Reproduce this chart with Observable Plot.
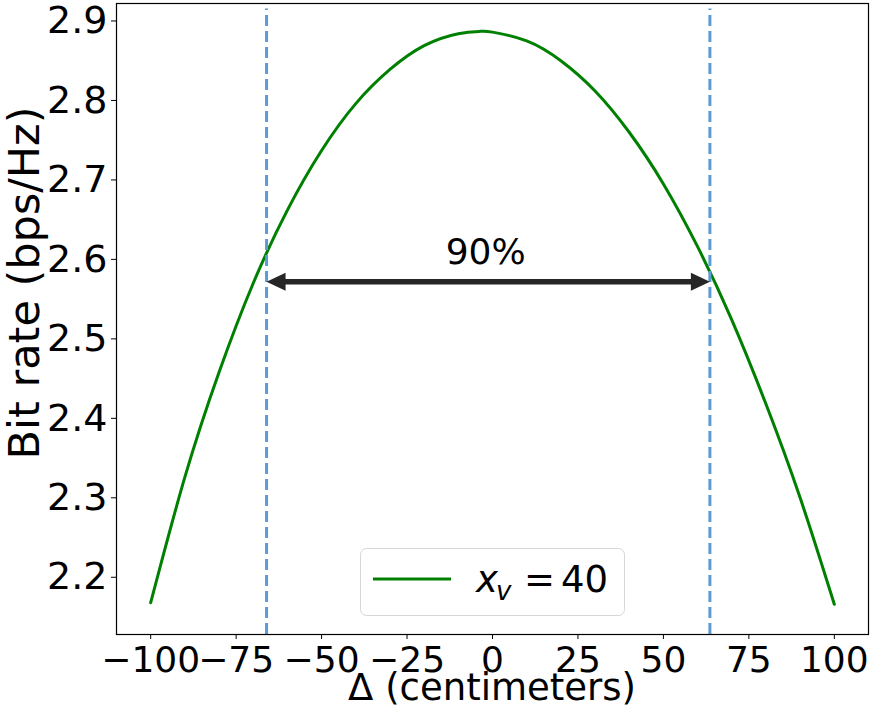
<!DOCTYPE html>
<html>
<head>
<meta charset="utf-8">
<script src="https://cdn.jsdelivr.net/npm/d3@7"></script>
<script src="https://cdn.jsdelivr.net/npm/@observablehq/plot@0.6"></script>
<style>
  html, body { margin: 0; padding: 0; background: white; }
  #chart svg { display: block; }
</style>
</head>
<body>
<div id="chart"></div>
<script>
// ---- data ----
const deltaCm = [-100, -90, -80, -70, -60, -50, -40, -30, -20, -10, -3.5, 0, 10, 20, 30, 40, 50, 60, 70, 80, 90, 100];
const bitRate = [2.168, 2.326, 2.458, 2.570, 2.662, 2.737, 2.796, 2.839, 2.869, 2.884, 2.887, 2.886, 2.875, 2.850, 2.812, 2.760, 2.695, 2.616, 2.524, 2.418, 2.300, 2.166];
const bounds90 = [-66.1, 63.6];          // dashed vertical lines (90% points)
const vlineRange = [2.128, 2.915];        // extent of dashed lines
const arrowLevel = [2.572];               // y of the double arrow
const annotation = ["90%"];
const annotationPos = [[-2, 2.609]];
const xTicks = [-100, -75, -50, -25, 0, 25, 50, 75, 100];
const yTicks = [2.2, 2.3, 2.4, 2.5, 2.6, 2.7, 2.8, 2.9];
const xLabel = "Δ (centimeters)";
const yLabel = "Bit rate (bps/Hz)";
const legendLabel = { base: "x", sub: "v", rest: "40" };

const curve = deltaCm.map((d, i) => ({ x: d, y: bitRate[i] }));
const arrowEnds = [
  { x: bounds90[0], y: arrowLevel[0], side: "L" },
  { x: bounds90[1], y: arrowLevel[0], side: "R" }
];

const headLeft = { draw(ctx) { ctx.moveTo(0, 0); ctx.lineTo(19, -9); ctx.lineTo(19, 9); ctx.closePath(); } };
const headRight = { draw(ctx) { ctx.moveTo(0, 0); ctx.lineTo(-19, -9); ctx.lineTo(-19, 9); ctx.closePath(); } };

const W = 872, H = 720;
const mL = 116, mR = 4, mT = 3, mB = 86;

const chart = Plot.plot({
  width: W, height: H,
  marginLeft: mL, marginRight: mR, marginTop: mT, marginBottom: mB,
  style: { fontFamily: "DejaVu Sans", color: "black", background: "white" },
  x: { domain: [-110, 110] },
  y: { domain: [2.128, 2.922] },
  marks: [
    Plot.axisX({ ticks: xTicks, tickSize: 5, tickPadding: 7, fontSize: 36, label: null, tickFormat: d3.format("d") }),
    Plot.axisY({ ticks: yTicks, tickSize: 5, tickPadding: 4, fontSize: 38, label: null, tickFormat: d3.format(".1f") }),
    Plot.line(curve, { x: "x", y: "y", stroke: "green", strokeWidth: 3, curve: "natural" }),
    Plot.ruleX(bounds90, { x: d => d, y1: vlineRange[0], y2: vlineRange[1], stroke: "#5b9bd5", strokeWidth: 3, strokeDasharray: "11,5" }),
    Plot.ruleY(arrowLevel, { y: d => d, x1: bounds90[0] + 3, x2: bounds90[1] - 3, stroke: "#262626", strokeWidth: 5.5 }),
    Plot.dot(arrowEnds.filter(d => d.side === "L"), { x: "x", y: "y", symbol: headLeft, fill: "#262626", stroke: null }),
    Plot.dot(arrowEnds.filter(d => d.side === "R"), { x: "x", y: "y", symbol: headRight, fill: "#262626", stroke: null }),
    Plot.text(annotation, { x: (d, i) => annotationPos[i][0], y: (d, i) => annotationPos[i][1], text: d => d, fontSize: 36, fill: "#000", lineAnchor: "middle" }),
    Plot.frame({ stroke: "black", strokeWidth: 1.2 })
  ]
});

const svg = d3.select(chart);
// axis labels
svg.append("text")
  .attr("x", (mL + W - mR) / 2).attr("y", 700)
  .attr("text-anchor", "middle")
  .attr("font-family", "DejaVu Sans").attr("font-size", 37).attr("fill", "black")
  .text(xLabel);
svg.append("text")
  .attr("transform", "translate(39,283) rotate(-90)")
  .attr("text-anchor", "middle")
  .attr("font-family", "DejaVu Sans").attr("font-size", 43).attr("fill", "black")
  .text(yLabel);

// legend
const lg = svg.append("g");
lg.append("rect").attr("x", 360.5).attr("y", 548.5).attr("width", 264).attr("height", 67)
  .attr("rx", 6).attr("fill", "white").attr("fill-opacity", 0.8).attr("stroke", "#d6d6d6").attr("stroke-width", 1);
lg.append("line").attr("x1", 373).attr("x2", 451).attr("y1", 579).attr("y2", 579)
  .attr("stroke", "green").attr("stroke-width", 3);
const lt = lg.append("g").attr("font-family", "DejaVu Sans").attr("fill", "black").attr("text-anchor", "start");
lt.append("text").attr("x", 476).attr("y", 592).attr("font-size", 37).attr("font-style", "italic").text(legendLabel.base);
lt.append("text").attr("x", 496).attr("y", 600).attr("font-size", 26).attr("font-style", "italic").text(legendLabel.sub);
lt.append("text").attr("x", 524).attr("y", 592).attr("font-size", 37).text("=");
lt.append("text").attr("x", 561).attr("y", 592).attr("font-size", 37).text(legendLabel.rest);

document.getElementById("chart").appendChild(chart);
</script>
</body>
</html>
